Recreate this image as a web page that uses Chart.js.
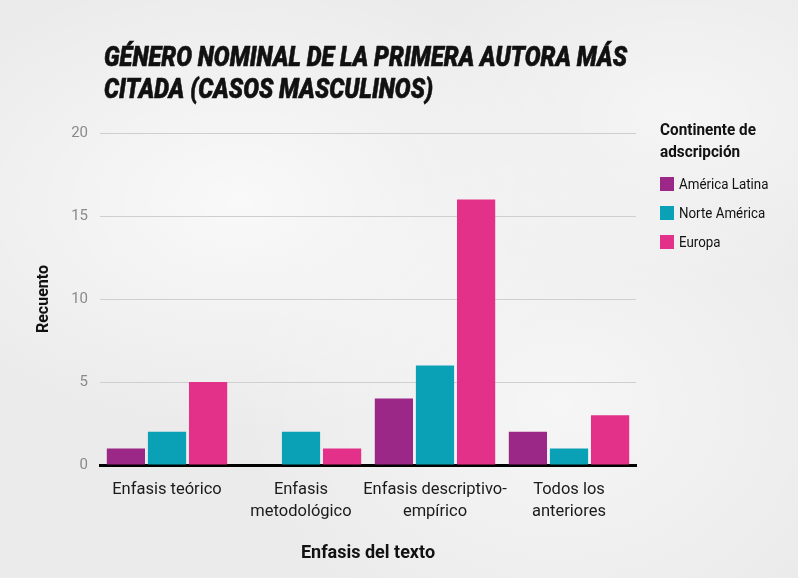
<!DOCTYPE html>
<html>
<head>
<meta charset="utf-8">
<script src="https://cdn.jsdelivr.net/npm/chart.js@4"></script>
<style>
  html, body { margin: 0; padding: 0; }
  body {
    width: 798px; height: 578px; overflow: hidden;
    background:
      radial-gradient(ellipse 45% 40% at 30% 35%, rgba(255,255,255,0.7), rgba(255,255,255,0) 100%),
      radial-gradient(ellipse 40% 45% at 70% 70%, rgba(255,255,255,0.55), rgba(255,255,255,0) 100%),
      radial-gradient(ellipse 35% 30% at 85% 20%, rgba(255,255,255,0.5), rgba(255,255,255,0) 100%),
      #ebebeb;
    font-family: Roboto, sans-serif;
  }
  #wrap { position: relative; width: 798px; height: 578px; }
  #chart { position: absolute; left: 0; top: 0; }
  #title {
    position: absolute; left: 104px; top: 41px;
    font-size: 28px; line-height: 32px; font-weight: 900; font-style: italic;
    -webkit-text-stroke: 0.6px #111;
    color: #111; white-space: nowrap; transform-origin: 0 0;
  }
  #title span { display: inline-block; }
  #legend { position: absolute; left: 660px; top: 118px; color: #111; }
  #legend .head { font-size: 17px; font-weight: bold; line-height: 22px; margin-bottom: 7px;
    transform: scaleX(0.9); transform-origin: 0 0; white-space: nowrap; }
  #legend .item { display: flex; align-items: center; height: 29px; font-size: 15.5px; white-space: nowrap; }
  #legend .box { width: 14px; height: 14px; margin-right: 5px; flex: none; }
  #legend .txt { display: inline-block; transform: scaleX(0.86); transform-origin: 0 50%; }
</style>
</head>
<body>
<div id="wrap">
  <canvas id="chart" width="798" height="578"></canvas>
  <div id="title"><span>GÉNERO NOMINAL DE LA PRIMERA AUTORA MÁS</span><br><span>CITADA (CASOS MASCULINOS)</span></div>
  <div id="legend"></div>
</div>
<script>
// Categories (énfasis del texto), split into label lines
const categories = [
  ["Enfasis teórico"],
  ["Enfasis", "metodológico"],
  ["Enfasis descriptivo-", "empírico"],
  ["Todos los", "anteriores"]
];

// Counts per continent
const americaLatina = [1, 0, 4, 2];
const norteAmerica = [2, 2, 6, 1];
const europa = [5, 1, 16, 3];

const seriesNames = ["América Latina", "Norte América", "Europa"];
const seriesColors = ["#9b2787", "#0aa0b6", "#e33189"];

const yTicks = [0, 5, 10, 15, 20];

const FONT = "Roboto, sans-serif";

const ctx = document.getElementById("chart").getContext("2d");
const chart = new Chart(ctx, {
  type: "bar",
  data: {
    labels: categories,
    datasets: [americaLatina, norteAmerica, europa].map((vals, i) => ({
      label: seriesNames[i],
      data: vals,
      backgroundColor: seriesColors[i],
      categoryPercentage: 0.92,
      barPercentage: 0.93
    }))
  },
  options: {
    responsive: false,
    animation: false,
    devicePixelRatio: 1,
    layout: { padding: { left: 30, right: 162, top: 133, bottom: 10 } },
    plugins: {
      legend: { display: false },
      tooltip: { enabled: false }
    },
    scales: {
      x: {
        grid: { display: false },
        border: { display: true, color: "#000", width: 3 },
        ticks: {
          color: "#1a1a1a",
          font: { family: FONT, size: 16.5, lineHeight: 1.33 },
          padding: 6,
          maxRotation: 0,
          autoSkip: false
        },
        title: {
          display: true,
          text: "Enfasis del texto",
          color: "#111",
          font: { family: FONT, size: 18, weight: "bold" },
          padding: { top: 4, bottom: 4 }
        },
        afterFit: scale => { scale.height = 103; }
      },
      y: {
        min: 0,
        max: 20,
        afterBuildTicks: scale => { scale.ticks = yTicks.map(v => ({ value: v })); },
        grid: { color: "#cfcfcf", lineWidth: 1, drawTicks: false },
        border: { display: false },
        ticks: {
          color: "#8a8a8a",
          font: { family: FONT, size: 15 },
          padding: 12
        },
        title: {
          display: true,
          text: "Recuento",
          color: "#111",
          font: { family: FONT, size: 16, weight: "bold" },
          padding: { top: 4, bottom: 4 }
        },
        afterFit: scale => { scale.width = 70; }
      }
    }
  }
});

// Legend built from the chart's datasets
const legend = document.getElementById("legend");
legend.innerHTML = '<div class="head">Continente de<br>adscripción</div>' +
  chart.data.datasets.map(ds =>
    `<div class="item"><span class="box" style="background:${ds.backgroundColor}"></span><span class="txt">${ds.label}</span></div>`
  ).join("");

// Condense the heading so its first line spans 523px
const title = document.getElementById("title");
const firstLine = title.querySelector("span").getBoundingClientRect().width;
title.style.transform = `scaleX(${523 / firstLine})`;
</script>
</body>
</html>
